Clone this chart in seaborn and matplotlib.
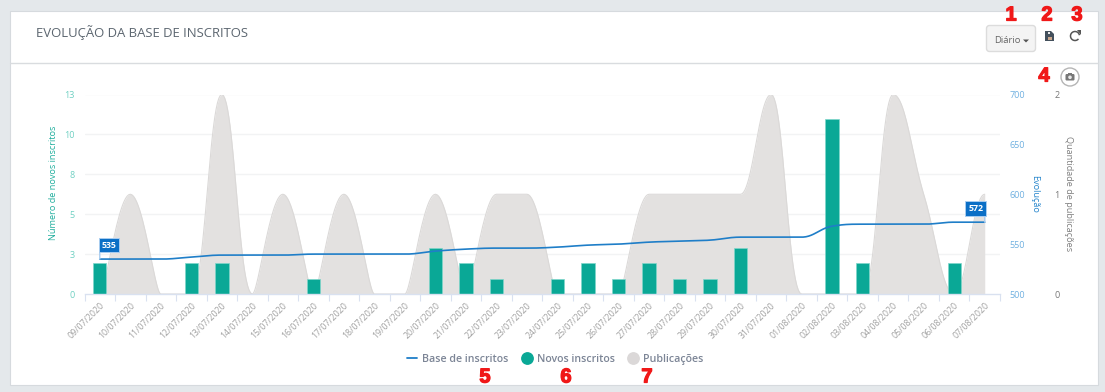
import numpy as np
import pandas as pd
import matplotlib
matplotlib.use("Agg")
import matplotlib.pyplot as plt
import matplotlib.patheffects as pe
import seaborn as sns
from matplotlib.lines import Line2D
from matplotlib.patches import FancyBboxPatch, Rectangle, Circle, Polygon, Arc

dates = ["09/07/2020", "10/07/2020", "11/07/2020", "12/07/2020", "13/07/2020", "14/07/2020",
         "15/07/2020", "16/07/2020", "17/07/2020", "18/07/2020", "19/07/2020", "20/07/2020",
         "21/07/2020", "22/07/2020", "23/07/2020", "24/07/2020", "25/07/2020", "26/07/2020",
         "27/07/2020", "28/07/2020", "29/07/2020", "30/07/2020", "31/07/2020", "01/08/2020",
         "02/08/2020", "03/08/2020", "04/08/2020", "05/08/2020", "06/08/2020", "07/08/2020"]
novos = [2, 0, 0, 2, 2, 0, 0, 1, 0, 0, 0, 3, 2, 1, 0, 1, 2, 1, 2, 1, 1, 3, 0, 0, 11.4, 2, 0, 0, 2, 0]
base = [535, 535, 535, 537, 539, 539, 539, 540, 540, 540, 540, 543, 545, 546, 546, 547, 549,
        550, 552, 553, 554, 557, 557, 557, 568, 570, 570, 570, 572, 572]
publicacoes = [0, 1, 0, 0, 2, 0, 1, 0, 1, 0, 0, 1, 0, 1, 1, 0, 0, 0, 1, 1, 1, 1, 2, 0, 0, 0, 2, 1, 0, 1]
left_ticks = [0, 2.6, 5.2, 7.8, 10.4, 13]
left_labels = ["0", "3", "5", "8", "10", "13"]
mid_ticks = [500, 550, 600, 650, 700]
right_ticks = [0, 1, 2]

W, H = 1105, 392
TEAL, BLUE, GRAY = "#0aa896", "#1f7ec8", "#e3e1e0"
FONT = ["Open Sans", "DejaVu Sans"]

sns.set_theme(style="white")
plt.rcParams["font.family"] = FONT


def spline(ys, n=24, shaped=False):
    """Cubic Bezier curve through the values, flat at extremes."""
    ys = np.asarray(ys, float)
    m = len(ys)
    lc, rc = ys.copy(), ys.copy()
    for i in range(1, m - 1):
        l = (1.5 * ys[i] + ys[i - 1]) / 2.5
        r = (1.5 * ys[i] + ys[i + 1]) / 2.5
        c = (r - l) * 0.5 + ys[i] - r
        l, r = l + c, r + c
        if r > max(ys[i], ys[i + 1]):
            r = max(ys[i], ys[i + 1]); l = 2 * ys[i] - r
        elif r < min(ys[i], ys[i + 1]):
            r = min(ys[i], ys[i + 1]); l = 2 * ys[i] - r
        if l > max(ys[i], ys[i - 1]):
            l = max(ys[i], ys[i - 1]); r = 2 * ys[i] - l
        elif l < min(ys[i], ys[i - 1]):
            l = min(ys[i], ys[i - 1]); r = 2 * ys[i] - l
        lc[i], rc[i] = l, r
    t = np.linspace(0, 1, n, endpoint=False)[:, None]
    xs_out, ys_out = [], []
    for i in range(m - 1):
        a, b = 0.4, 0.4  # handle length at the high end / low end
        if shaped and i + 1 < m - 1:
            h = abs(ys[i + 1] - ys[i])
            hi_left = ys[i] > ys[i + 1]
            hi_flat = (rc[i] == ys[i]) if hi_left else (lc[i + 1] == ys[i + 1])
            if h == 2:
                a, b = 0.42, 0.46
            elif h == 1 and min(ys[i], ys[i + 1]) == 0 and hi_flat:
                a, b = 0.42, 0.2
            c1, c2 = (a, b) if hi_left else (b, a)
        else:
            c1, c2 = a, b
        px = np.array([i, i + c1, i + 1 - c2, i + 1.0])
        py = np.array([ys[i], rc[i], lc[i + 1], ys[i + 1]])
        B = np.hstack([(1 - t) ** 3, 3 * t * (1 - t) ** 2, 3 * t ** 2 * (1 - t), t ** 3])
        xs_out.append(B @ px)
        ys_out.append(B @ py)
    return np.r_[np.concatenate(xs_out), m - 1], np.r_[np.concatenate(ys_out), ys[-1]]


fig = plt.figure(figsize=(W / 100, H / 100), dpi=100, facecolor="#e4e8eb")

# page card
bg = fig.add_axes([0, 0, 1, 1], zorder=-1)
bg.set_xlim(0, W); bg.set_ylim(H, 0); bg.axis("off")
bg.add_patch(Rectangle((10, 11), 1088, 374, fc="white", ec="#d6dade", lw=0.8))
bg.plot([10, 1098], [62.5, 62.5], color="#d9dcdf", lw=1)

L, R, T, B = 84.5, 1000, 94.5, 294
rect = [L / W, 1 - B / H, (R - L) / W, (B - T) / H]
ax = fig.add_axes(rect, zorder=3)
ax.patch.set_visible(False)
ax_area = ax.twinx(); ax_area.set_zorder(1)
ax_line = ax.twinx(); ax_line.set_zorder(4); ax_line.patch.set_visible(False)
ax_area.patch.set_visible(False)

# area
ax_area.set_ylim(0, 2)
xa, ya = spline(publicacoes, shaped=True)
for t in left_ticks[1:]:
    ax_area.axhline(t * 2 / 13, color="#f2f3f4", lw=1, zorder=0)
ax_area.fill_between(xa, 0, ya, color=GRAY, lw=0, zorder=1)
ax_area.plot(xa, ya, color="#dbd9d8", lw=0.8, zorder=2)
ax_area.set_yticks(right_ticks)
ax_area.tick_params(axis="y", length=0, pad=0, labelsize=6.5, labelcolor="#777777")
ax_area.spines["right"].set_position(("outward", 39))
ax_area.yaxis.tick_right()

# bars
df = pd.DataFrame({"data": dates, "novos": novos})
sns.barplot(data=df, x="data", y="novos", color=TEAL, saturation=1, width=0.44,
            edgecolor="#7fd6ca", linewidth=0.5, ax=ax)
ax.set_ylim(0, 13)
ax.set_xlim(-0.5, 29.5)
ax.set_yticks(left_ticks, left_labels)
ax.tick_params(axis="y", length=0, pad=7, labelsize=6.5, labelcolor="#6fd0c2")
ax.set_xticks(range(30), dates)
ax.tick_params(axis="x", which="major", length=0, pad=5, labelsize=6.3, labelcolor="#a0a0a0")
for lab in ax.get_xticklabels():
    lab.set_rotation(45); lab.set_ha("right"); lab.set_rotation_mode("anchor"); lab.set_fontweight(500)
ax.set_xticks(np.arange(-0.5, 30, 1), minor=True)
ax.tick_params(axis="x", which="minor", length=5, width=0.8, color="#d9e1f0", bottom=True)
ax.set_xlabel("")
ax.set_ylabel("")

# line
ax_line.set_ylim(500, 700)
xl, yl = spline(base)
sns.lineplot(x=xl, y=yl, color=BLUE, lw=1.2, ax=ax_line, errorbar=None, estimator=None, sort=False)
ax_line.set_yticks(mid_ticks)
ax_line.tick_params(axis="y", length=0, pad=7, labelsize=6.5, labelcolor="#6fb0e0")
ax_line.set_ylabel("")

for a in (ax, ax_area, ax_line):
    for s in a.spines.values():
        s.set_visible(False)
ax.spines["bottom"].set_visible(True)
ax.spines["bottom"].set_color("#d9e1f0")
ax.spines["bottom"].set_linewidth(1)

# axis titles
fig.text(53 / W, 1 - 183 / H, "Número de novos inscritos", rotation=90, color="#1fae9d",
         fontsize=6.6, ha="center", va="center")
fig.text(1035 / W, 1 - 194 / H, "Evolução", rotation=270, color="#2585cc",
         fontsize=6.6, ha="center", va="center")
fig.text(1069 / W, 1 - 194 / H, "Quantidade de publicações", rotation=270, color="#808080",
         fontsize=6.6, ha="center", va="center")

# flags
def flag(i, sign):
    v = base[i]
    ax_line.annotate("", xy=(i, v), xytext=(0, 8), textcoords="offset points",
                     arrowprops=dict(arrowstyle="-", color="#a9cdf0", lw=1, shrinkA=0, shrinkB=0))
    ax_line.annotate(str(v), xy=(i, v), xytext=(sign * 6.5, 10), textcoords="offset points",
                     ha="center", va="center", color="white", fontsize=6.3, fontweight="bold",
                     bbox=dict(boxstyle="square,pad=0.32", fc="#0b6fc6", ec="#a9cdf0", lw=0.7), zorder=6)

flag(0, 1)
flag(29, -1)

# legend
handles = [Line2D([], [], color=BLUE, lw=1.3),
           Line2D([], [], color=TEAL, marker="o", ms=8.2, lw=0),
           Line2D([], [], color="#dbd8d8", marker="o", ms=8.2, lw=0)]
fig.legend(handles, ["Base de inscritos", "Novos inscritos", "Publicações"], ncol=3,
           loc="center", bbox_to_anchor=(555 / W, 1 - 359.5 / H), frameon=False,
           labelcolor="#7c8596", handlelength=1.0, handletextpad=0.45,
           columnspacing=1.2, prop={"weight": 600, "size": 7.65})

# header and overlay
fg = fig.add_axes([0, 0, 1, 1], zorder=10)
fg.set_xlim(0, W); fg.set_ylim(H, 0); fg.axis("off")
fg.text(36, 33, "EVOLUÇÃO DA BASE DE INSCRITOS", fontsize=9.45, color="#5c6670", va="center", ha="left")

fg.add_patch(FancyBboxPatch((986.5, 25.5), 49, 26, boxstyle="round,pad=0,rounding_size=3",
                            fc="#f4f4f4", ec="#dcdcdc", lw=1))
fg.text(994, 40, "Diário", fontsize=6.8, color="#666666", va="center", ha="left")
fg.add_patch(Polygon([(1023, 39.5), (1029, 39.5), (1026, 42.5)], fc="#555555", ec="none"))

# document icon
fg.add_patch(Polygon([(1045, 31), (1051, 31), (1054, 34), (1054, 41), (1045, 41)], fc="#44505c", ec="none"))
fg.add_patch(Rectangle((1047.5, 36.5), 4, 3, fc="#c9a68c", ec="none"))
fg.add_patch(Rectangle((1048, 31.5), 2, 2.5, fc="#e8e8e8", ec="none"))

# refresh icon
fg.add_patch(Arc((1075, 36), 9, 9, theta1=-320, theta2=-10, color="#555555", lw=1.1))
fg.add_patch(Polygon([(1077, 30), (1081, 30), (1081, 34.5)], fc="#555555", ec="none"))

# camera button
fg.add_patch(Circle((1070, 77), 9, fc="white", ec="#b5b5b5", lw=1))
fg.add_patch(FancyBboxPatch((1065.5, 74), 9, 6.5, boxstyle="round,pad=0,rounding_size=1.2",
                            fc="#777777", ec="none"))
fg.add_patch(Rectangle((1068, 72.5), 4, 2, fc="#777777", ec="none"))
fg.add_patch(Circle((1070, 77.3), 1.8, fc="#e8e8e8", ec="none"))

# red numbers
for s, x, y in [("1", 1011, 15), ("2", 1047, 15), ("3", 1077, 15), ("4", 1044, 76),
                ("5", 485, 377), ("6", 566, 377), ("7", 647, 377)]:
    fg.text(x, y, s, color="#f01818", fontsize=14.5, fontweight="bold", ha="center", va="center",
            family=["Liberation Sans", "DejaVu Sans"],
            path_effects=[pe.withStroke(linewidth=0.9, foreground="#f01818")])

fig.savefig("out.png", dpi=100, facecolor=fig.get_facecolor())
